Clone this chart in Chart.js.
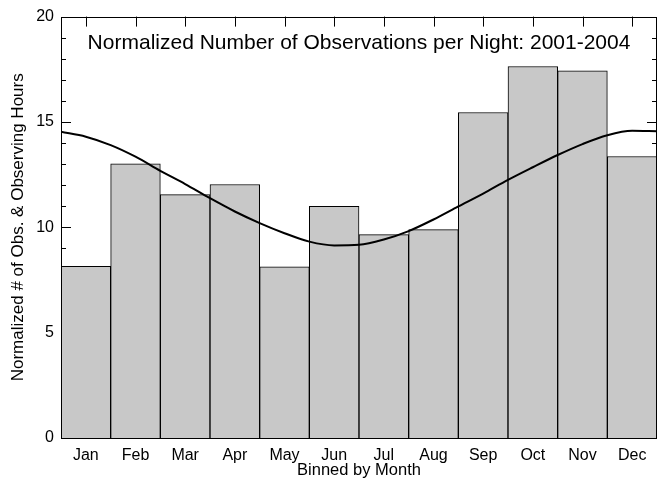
<!DOCTYPE html>
<html>
<head>
<meta charset="utf-8">
<script src="https://cdn.jsdelivr.net/npm/chart.js@4"></script>
<style>
  html, body { margin: 0; padding: 0; background: #fff; }
  #wrap { width: 657px; height: 479px; }
</style>
</head>
<body>
<div id="wrap"><canvas id="chart" width="657" height="479"></canvas></div>
<script>
const months = ['Jan', 'Feb', 'Mar', 'Apr', 'May', 'Jun', 'Jul', 'Aug', 'Sep', 'Oct', 'Nov', 'Dec'];
const observations = [8.15, 13.01, 11.55, 12.03, 8.12, 10.99, 9.65, 9.89, 15.45, 17.63, 17.43, 13.36];

// observing hours curve, sampled every half month
const hourMonths = [0, 0.5, 1, 1.5, 2, 2.5, 3, 3.5, 4, 4.5, 5, 5.5, 6, 6.5, 7, 7.5, 8, 8.5, 9, 9.5, 10, 10.5, 11, 11.5, 12];
const hours = [14.53, 14.3, 13.9, 13.35, 12.68, 12.05, 11.38, 10.75, 10.2, 9.72, 9.32, 9.14, 9.17, 9.42, 9.82, 10.37, 10.99, 11.6, 12.25, 12.85, 13.43, 13.95, 14.37, 14.58, 14.56];

const yTicks = [0, 5, 10, 15, 20];
const chartTitle = 'Normalized Number of Observations per Night: 2001-2004';

const FONT = "'Liberation Sans', Arial, Helvetica, sans-serif";

// inward ticks on every side, drawn under the bars like the original
const axisTicks = {
  id: 'axisTicks',
  beforeDatasetsDraw(chart) {
    const { ctx, chartArea: a, scales } = chart;
    ctx.save();
    ctx.strokeStyle = '#000';
    ctx.lineWidth = 1;
    ctx.beginPath();
    scales.y.ticks.forEach(t => {
      const y = Math.round(scales.y.getPixelForValue(t.value)) + 0.5;
      const len = yTicks.includes(t.value) ? 10 : 5;
      ctx.moveTo(a.left, y); ctx.lineTo(a.left + len, y);
      ctx.moveTo(a.right, y); ctx.lineTo(a.right - len, y);
    });
    months.forEach((m, i) => {
      const x = Math.round(scales.x.getPixelForValue(i)) + 0.5;
      ctx.moveTo(x, a.top); ctx.lineTo(x, a.top + 10);
      ctx.moveTo(x, a.bottom); ctx.lineTo(x, a.bottom - 10);
    });
    ctx.stroke();
    ctx.restore();
  },
  afterDatasetsDraw(chart) {
    const { ctx, chartArea: a } = chart;
    ctx.save();
    ctx.strokeStyle = '#000';
    ctx.lineWidth = 1;
    ctx.strokeRect(Math.round(a.left) + 0.5, Math.round(a.top) + 0.5,
      Math.round(a.right - a.left) - 1, Math.round(a.bottom - a.top));
    ctx.fillStyle = '#000';
    ctx.font = '21px ' + FONT;
    ctx.textAlign = 'center';
    ctx.textBaseline = 'alphabetic';
    ctx.fillText(chartTitle, (a.left + a.right) / 2, a.top + 32);
    ctx.restore();
  }
};

new Chart(document.getElementById('chart'), {
  data: {
    labels: months,
    datasets: [
      {
        type: 'line',
        label: 'Observing Hours',
        data: hourMonths.map((m, i) => ({ x: m, y: hours[i] })),
        xAxisID: 'x2',
        borderColor: '#000',
        borderWidth: 2,
        pointRadius: 0,
        cubicInterpolationMode: 'monotone',
        fill: false,
        order: 1
      },
      {
        type: 'bar',
        label: 'Observations',
        data: observations,
        backgroundColor: '#c8c8c8',
        borderColor: '#000',
        borderWidth: 1,
        barPercentage: 1,
        categoryPercentage: 1,
        grouped: false,
        order: 2
      }
    ]
  },
  options: {
    responsive: false,
    animation: false,
    layout: { padding: { top: 14, right: 0, left: 0, bottom: 0 } },
    plugins: { legend: { display: false }, tooltip: { enabled: false } },
    scales: {
      x: {
        type: 'category',
        offset: true,
        grid: { display: false, drawTicks: false },
        border: { display: false },
        ticks: { color: '#000', font: { family: FONT, size: 16 }, padding: 8, maxRotation: 0, autoSkip: false },
        title: { display: true, text: 'Binned by Month', color: '#000', font: { family: FONT, size: 16.5, lineHeight: 1 }, padding: { top: 0, bottom: 0 } },
        afterFit(s) { s.height = 41; }
      },
      x2: {
        type: 'linear',
        display: false,
        min: 0,
        max: 12
      },
      y: {
        min: 0,
        max: 20,
        grid: { display: false, drawTicks: false },
        border: { display: false },
        ticks: {
          stepSize: 1,
          autoSkip: false,
          color: '#000',
          font: { family: FONT, size: 16 },
          padding: 7,
          callback: v => (yTicks.includes(v) ? v : '')
        },
        title: { display: true, text: 'Normalized # of Obs. & Observing Hours', color: '#000', font: { family: FONT, size: 17, lineHeight: 1 }, padding: { top: 10, bottom: 0 } },
        afterFit(s) { s.width = 61; }
      }
    }
  },
  plugins: [axisTicks]
});
</script>
</body>
</html>
